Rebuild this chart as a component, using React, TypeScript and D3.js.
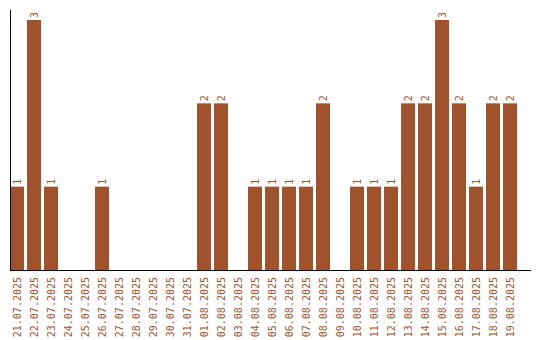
import React from "react";
import * as d3 from "d3";

const dates = [
  "21.07.2025", "22.07.2025", "23.07.2025", "24.07.2025", "25.07.2025",
  "26.07.2025", "27.07.2025", "28.07.2025", "29.07.2025", "30.07.2025",
  "31.07.2025", "01.08.2025", "02.08.2025", "03.08.2025", "04.08.2025",
  "05.08.2025", "06.08.2025", "07.08.2025", "08.08.2025", "09.08.2025",
  "10.08.2025", "11.08.2025", "12.08.2025", "13.08.2025", "14.08.2025",
  "15.08.2025", "16.08.2025", "17.08.2025", "18.08.2025", "19.08.2025",
];
const counts = [1, 3, 1, 0, 0, 1, 0, 0, 0, 0, 0, 2, 2, 0, 1, 1, 1, 1, 2, 0, 1, 1, 1, 2, 2, 3, 2, 1, 2, 2];

const W = 540;
const H = 340;
const color = "#A0522D";
const font = "'DejaVu Sans Mono', monospace";

export default function App() {
  const x = d3.scaleBand<string>().domain(dates).range([10, 517]).paddingInner(3 / 17).paddingOuter(0);
  const y = d3.scaleLinear().domain([0, 3]).range([270, 20]);
  return (
    <svg width={W} height={H} style={{ position: "absolute", left: 0, top: 0, background: "#fff" }}>
      {dates.map((d, i) =>
        counts[i] > 0 ? (
          <g key={d}>
            <rect x={x(d)} y={y(counts[i])} width={x.bandwidth()} height={y(0) - y(counts[i])} fill={color} />
            <text
              transform={`translate(${(x(d) as number) + x.bandwidth() / 2},${y(counts[i]) - 2}) rotate(-90)`}
              textAnchor="start"
              dominantBaseline="central"
              fontFamily={font}
              fontSize={10}
              fill={color}
            >
              {counts[i]}
            </text>
          </g>
        ) : null
      )}
      <line x1={10.5} x2={10.5} y1={10} y2={270} stroke="#000" strokeWidth={1} />
      <line x1={10} x2={531} y1={270.5} y2={270.5} stroke="#000" strokeWidth={1} />
      {dates.map((d) => (
        <text
          key={"l" + d}
          transform={`translate(${(x(d) as number) + x.bandwidth() / 2},277) rotate(-90)`}
          textAnchor="end"
          dominantBaseline="central"
          fontFamily={font}
          fontSize={10}
          fill={color}
        >
          {d}
        </text>
      ))}
    </svg>
  );
}
